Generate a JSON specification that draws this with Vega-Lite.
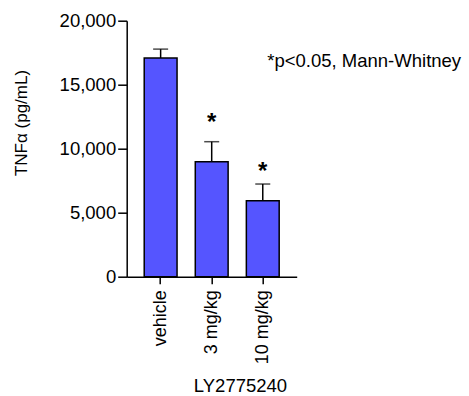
{
  "$schema": "https://vega.github.io/schema/vega-lite/v6.json",
  "width": 170,
  "height": 256,
  "autosize": {"type": "none"},
  "padding": {"left": 126.7, "top": 20.7, "right": 172.3, "bottom": 119.3},
  "background": "white",
  "config": {
    "view": {"stroke": null},
    "font": "Liberation Sans",
    "axis": {
      "labelFont": "Liberation Sans",
      "titleFont": "Liberation Sans",
      "labelColor": "black",
      "titleColor": "black",
      "domainColor": "black",
      "tickColor": "black",
      "grid": false,
      "titleFontWeight": "normal",
      "domainWidth": 1.5,
      "tickWidth": 1.5
    },
    "axisY": {
      "format": ",.0f",
      "formatType": "number",
      "tickCount": 4,
      "labelFontSize": 18.5,
      "tickSize": 9,
      "labelPadding": 2,
      "titleFontSize": 17,
      "titleX": -105,
      "titleY": 101.8,
      "titleAngle": -90,
      "titleBaseline": "middle",
      "titleAlign": "center"
    },
    "axisX": {
      "labelAngle": -90,
      "labelFontSize": 18,
      "tickSize": 7,
      "labelPadding": 6,
      "titleFontSize": 18.5,
      "titleX": 113.3,
      "titleY": 115,
      "titleBaseline": "alphabetic",
      "titleAlign": "center"
    }
  },
  "datasets": {
    "bars": [
      {"group": "vehicle", "mean": 17080, "upper": 17780},
      {"group": "3 mg/kg", "mean": 8984, "upper": 10547},
      {"group": "10 mg/kg", "mean": 5938, "upper": 7240}
    ],
    "stars": [
      {"group": "3 mg/kg", "star": "*", "star_y": 12008},
      {"group": "10 mg/kg", "star": "*", "star_y": 8180}
    ],
    "note": [
      {"group": "10 mg/kg", "label": "*p<0.05, Mann-Whitney", "note_y": 16406}
    ]
  },
  "encoding": {
    "x": {
      "field": "group",
      "type": "nominal",
      "sort": ["vehicle", "3 mg/kg", "10 mg/kg"],
      "title": "LY2775240",
      "scale": {"paddingInner": 0.357, "paddingOuter": 0.343}
    }
  },
  "layer": [
    {
      "data": {"name": "bars"},
      "mark": {"type": "rule", "color": "black", "strokeWidth": 1.5},
      "encoding": {
        "y": {"field": "mean", "type": "quantitative", "title": "TNFα (pg/mL)", "scale": {"domain": [0, 20000], "nice": false}},
        "y2": {"field": "upper"}
      }
    },
    {
      "data": {"name": "bars"},
      "mark": {"type": "bar", "fill": "#5555FF", "stroke": "black", "strokeWidth": 1.5},
      "encoding": {
        "y": {"field": "mean", "type": "quantitative", "title": "TNFα (pg/mL)"}
      }
    },
    {
      "data": {"name": "bars"},
      "mark": {"type": "tick", "color": "black", "thickness": 1.5, "size": 15},
      "encoding": {
        "y": {"field": "upper", "type": "quantitative", "title": "TNFα (pg/mL)"}
      }
    },
    {
      "data": {"name": "stars"},
      "mark": {"type": "text", "fontSize": 24, "fontWeight": "bold", "align": "center", "baseline": "middle", "color": "black"},
      "encoding": {
        "y": {"field": "star_y", "type": "quantitative", "title": "TNFα (pg/mL)"},
        "text": {"field": "star"}
      }
    },
    {
      "data": {"name": "note"},
      "mark": {"type": "text", "fontSize": 18.5, "align": "left", "baseline": "alphabetic", "dx": 4.5, "color": "black"},
      "encoding": {
        "y": {"field": "note_y", "type": "quantitative", "title": "TNFα (pg/mL)"},
        "text": {"field": "label"}
      }
    }
  ]
}
